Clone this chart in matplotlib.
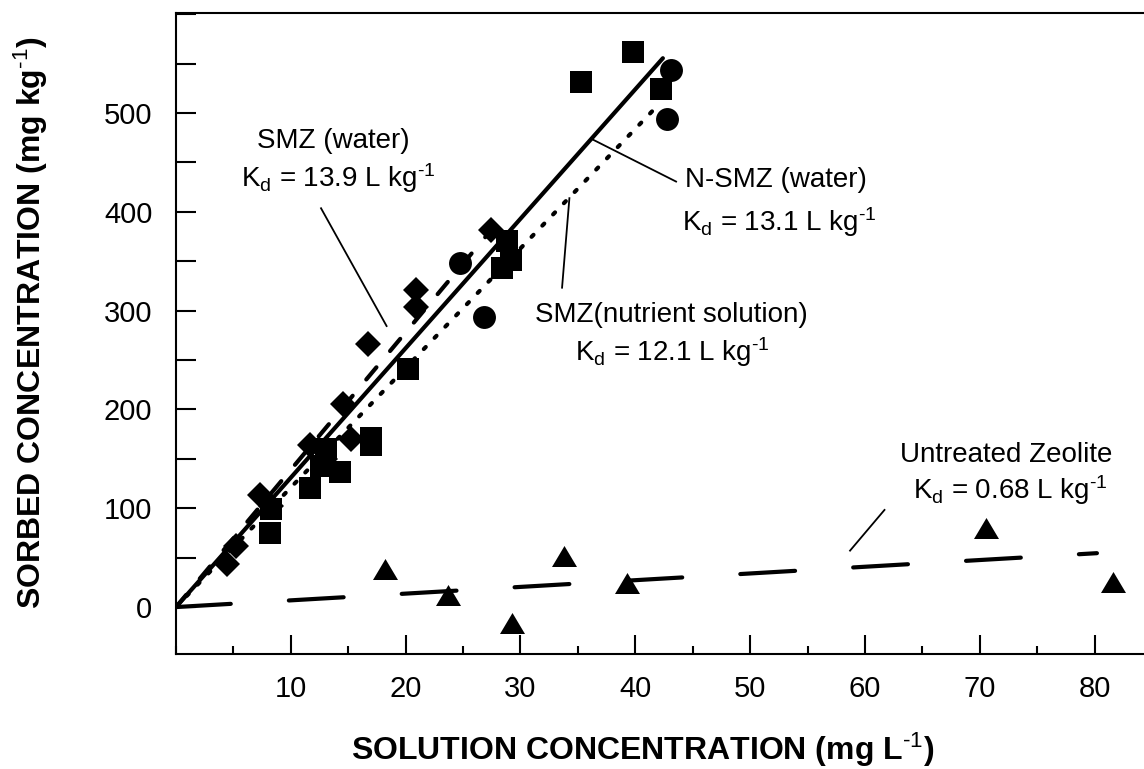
import matplotlib
matplotlib.use('Agg')
import matplotlib.pyplot as plt
from matplotlib.ticker import FixedLocator, MultipleLocator
import numpy as np

# SMZ in water (diamonds)
smz_water_x = [4.4, 5.2, 7.3, 8.3, 11.7, 13.0, 14.5, 15.2, 16.7, 20.9, 20.9, 27.4]
smz_water_y = [44, 62, 113, 102, 164, 150, 206, 170, 266, 321, 304, 382]

# N-SMZ in water (squares)
nsmz_water_x = [8.2, 8.3, 11.7, 12.6, 13.1, 14.3, 17.0, 17.0, 20.2, 28.4, 28.8, 29.2, 35.3, 39.8, 42.2]
nsmz_water_y = [75, 99, 120, 143, 160, 137, 171, 164, 241, 343, 370, 351, 531, 562, 524]

# SMZ in nutrient solution (circles)
smz_nutrient_x = [24.7, 26.8, 42.8, 43.1]
smz_nutrient_y = [348, 294, 494, 544]

# untreated zeolite (triangles)
zeolite_x = [18.2, 23.7, 29.3, 33.8, 39.3, 70.5, 81.6]
zeolite_y = [39, 12, -16, 52, 24, 80, 25]

# linear isotherm fits, Kd in L/kg, drawn from 0 to x_end
kd_values = [13.9, 13.1, 12.1, 0.68]
fit_x_end = [27.6, 42.4, 41.8, 80.2]

plt.rcParams['font.family'] = ['Liberation Sans', 'DejaVu Sans']
plt.rcParams['mathtext.fontset'] = 'custom'
plt.rcParams['mathtext.rm'] = 'Liberation Sans'
plt.rcParams['mathtext.it'] = 'Liberation Sans:italic'
plt.rcParams['mathtext.bf'] = 'Liberation Sans:bold'
plt.rcParams['lines.scale_dashes'] = False

fig = plt.figure(figsize=(11.44, 7.69), dpi=100)
ax = fig.add_axes([176 / 1144, 115 / 769, 968 / 1144, 641.3 / 769])

tri = [(-1, -0.84), (1, -0.84), (0, 0.84)]
ax.plot(smz_water_x, smz_water_y, ls='none', marker='D', ms=13.5, color='black', mew=0)
ax.plot(nsmz_water_x, nsmz_water_y, ls='none', marker='s', ms=16.5, color='black', mew=0)
ax.plot(smz_nutrient_x, smz_nutrient_y, ls='none', marker='o', ms=16.5, color='black', mew=0)
ax.plot(zeolite_x, zeolite_y, ls='none', marker=tri, ms=18, color='black', mew=0)

line_dashes = [(0, (11.4, 15.3)), None, (0, (2.0, 9.2)), (0, (39.5, 41.9))]
for kd, xe, dash in zip(kd_values, fit_x_end, line_dashes):
    xs = np.array([0, xe])
    ln, = ax.plot(xs, kd * xs, color='black', lw=3, solid_capstyle='round',
                  dash_capstyle='round')
    if dash is not None:
        ln.set_linestyle(dash)

ax.set_xlim(0, 84.3)
ax.set_ylim(-47.5, 601.5)

ax.xaxis.set_major_locator(FixedLocator([10, 20, 30, 40, 50, 60, 70, 80]))
ax.xaxis.set_minor_locator(MultipleLocator(5))
ax.yaxis.set_major_locator(FixedLocator([0, 100, 200, 300, 400, 500]))
ax.yaxis.set_minor_locator(MultipleLocator(50))
ax.tick_params(axis='x', which='major', direction='in', length=13.7, width=1.5,
               labelsize=21, pad=15)
ax.tick_params(axis='x', which='minor', direction='in', length=5.8, width=1.5)
ax.tick_params(axis='y', which='both', direction='in', length=14.4, width=1.5,
               labelsize=21, pad=17)
ax.spines['right'].set_visible(False)
for s in ['left', 'bottom', 'top']:
    ax.spines[s].set_linewidth(1.5)

ax.set_xlabel(r'SOLUTION CONCENTRATION (mg L$^{\text{-1}}$)', fontsize=23,
              fontweight='bold')
ax.xaxis.set_label_coords(0.4824, -0.120)
ax.set_ylabel(r'SORBED CONCENTRATION (mg kg$^{\text{-1}}$)', fontsize=23,
              fontweight='bold')
ax.yaxis.set_label_coords(-0.130, 0.516)

# labels with leader lines
fs = 20
unit = r' L kg$^{\text{-1}}$'
ax.text(13.7, 472, 'SMZ (water)', fontsize=fs, ha='center', va='center')
ax.text(14.1, 434, r'K$_\mathrm{d}$ = 13.9' + unit, fontsize=fs,
        ha='center', va='center')
ax.plot([12.63, 18.34], [403.6, 284.4], color='black', lw=1.3)

ax.text(44.3, 432, 'N-SMZ (water)', fontsize=fs, ha='left', va='center')
ax.text(44.1, 390, r'K$_\mathrm{d}$ = 13.1' + unit, fontsize=fs,
        ha='left', va='center')
ax.plot([36.35, 43.55], [472.8, 430.6], color='black', lw=1.3)

ax.text(31.3, 296, 'SMZ(nutrient solution)', fontsize=fs, ha='left', va='center')
ax.text(43.2, 258, r'K$_\mathrm{d}$ = 12.1' + unit, fontsize=fs,
        ha='center', va='center')
ax.plot([34.26, 33.62], [413.8, 323.2], color='black', lw=1.3)

ax.text(72.3, 154, 'Untreated Zeolite', fontsize=fs, ha='center', va='center')
ax.text(72.7, 118, r'K$_\mathrm{d}$ = 0.68' + unit, fontsize=fs,
        ha='center', va='center')
ax.plot([58.7, 61.7], [57.1, 98.3], color='black', lw=1.3)

fig.savefig('out.png', dpi=100)
